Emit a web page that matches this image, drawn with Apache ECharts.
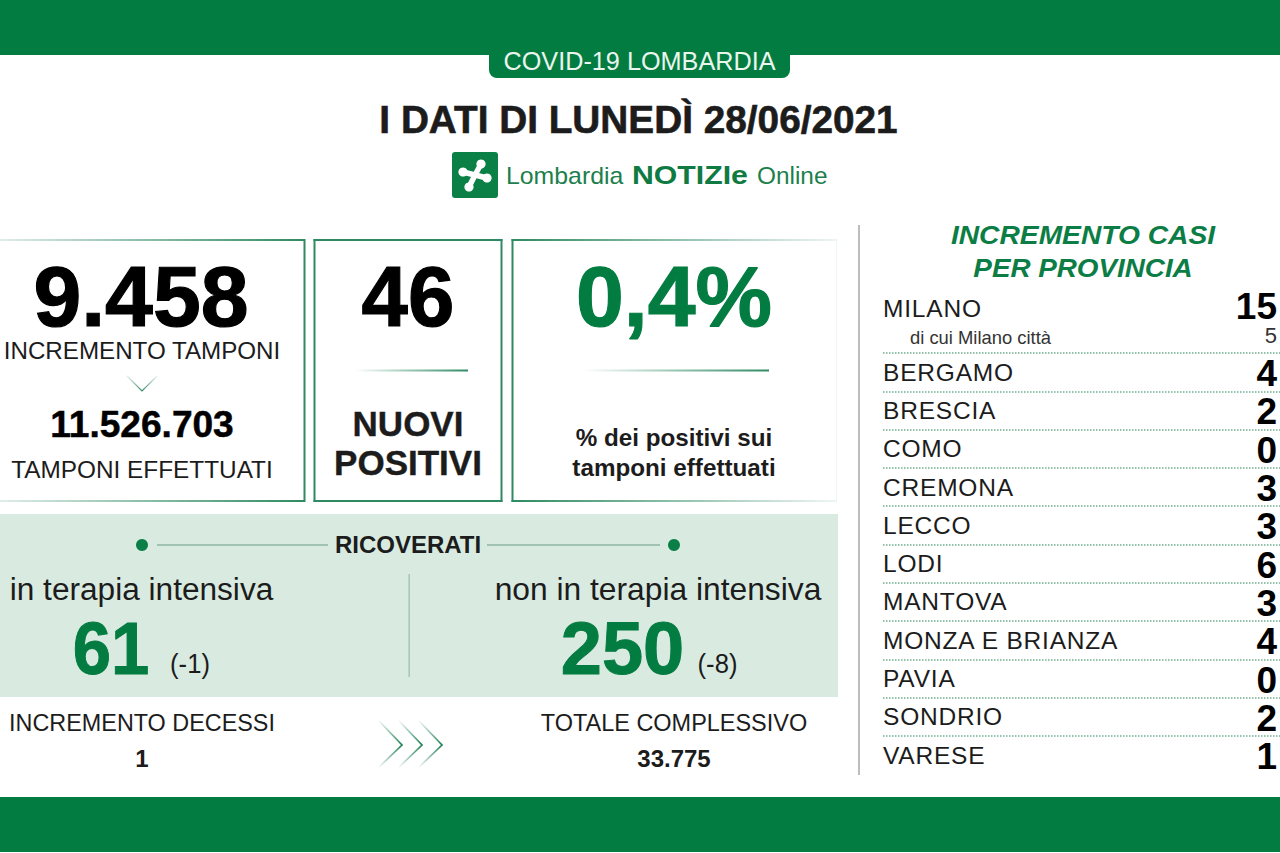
<!DOCTYPE html>
<html>
<head>
<meta charset="utf-8">
<title>COVID-19 Lombardia</title>
<script src="https://cdn.jsdelivr.net/npm/echarts@6/dist/echarts.min.js"></script>
<style>
  html, body { margin: 0; padding: 0; background: #fff; }
  #chart { width: 1280px; height: 853px; }
  /* province names are spaced out a little in the original */
  #chart text[style*="24.5px"] { letter-spacing: 0.8px; }
</style>
</head>
<body>
<div id="chart"></div>
<script>
const headerLabel = 'COVID-19 LOMBARDIA';
const titleText = 'I DATI DI LUNEDÌ 28/06/2021';
const testIncrement = '9.458';
const testTotal = '11.526.703';
const newPositives = '46';
const positiveRate = '0,4%';
const icuLabel = 'in terapia intensiva';
const icuValue = '61';
const icuDelta = '(-1)';
const wardLabel = 'non in terapia intensiva';
const wardValue = '250';
const wardDelta = '(-8)';
const deathsIncrement = '1';
const deathsTotal = '33.775';

const milanoRows = ['MILANO', 'di cui Milano città'];
const milanoCases = [15, 5];
const provinces = ['BERGAMO', 'BRESCIA', 'COMO', 'CREMONA', 'LECCO', 'LODI', 'MANTOVA',
  'MONZA E BRIANZA', 'PAVIA', 'SONDRIO', 'VARESE'];
const provinceCases = [4, 2, 0, 3, 3, 6, 3, 4, 0, 2, 1];

const GREEN = '#037c41';
const LINE = '#2f8a63';
const INK = '#1c1c1c';
const FONT = '"Liberation Sans", Arial, sans-serif';

const chart = echarts.init(document.getElementById('chart'), null, { renderer: 'svg' });

function text(str, x, y, size, color, o) {
  o = o || {};
  const style = {
    text: str, fill: color, fontFamily: FONT, fontSize: size,
    fontWeight: o.bold ? 'bold' : 'normal', fontStyle: o.italic ? 'italic' : 'normal',
    textAlign: o.align || 'center', textVerticalAlign: 'middle'
  };
  // the original bold is a bit heavier than Liberation
  if (o.heavy) {
    style.stroke = color;
    style.lineWidth = o.heavy;
  }
  return { type: 'text', x: x, y: y, scaleX: o.sx || 1, silent: true, z: 10, style: style };
}
function rect(x, y, w, h, fill, r) {
  return { type: 'rect', silent: true, shape: { x: x, y: y, width: w, height: h, r: r || 0 }, style: { fill: fill } };
}
function fade(from, to) {
  return new echarts.graphic.LinearGradient(0, 0, 1, 0, [
    { offset: 0, color: from }, { offset: 1, color: to }
  ]);
}
function poly(points, color, width) {
  return { type: 'polyline', silent: true, shape: { points: points }, style: { stroke: color, lineWidth: width, fill: null, lineCap: 'round' } };
}

const cloverPoints = [[481, 164], [463, 172], [469, 187], [487, 178]];
const clover = [];
cloverPoints.forEach(p => {
  clover.push({
    type: 'line', silent: true, z: 5,
    shape: { x1: 475, y1: 175, x2: p[0], y2: p[1] },
    style: { stroke: '#fff', lineWidth: 5.5, lineCap: 'round' }
  });
  clover.push({ type: 'circle', silent: true, z: 5, shape: { cx: p[0], cy: p[1], r: 4.6 }, style: { fill: '#fff' } });
});

const chevrons = [402, 422, 442].map(tip => poly([[tip - 24, 720], [tip, 745], [tip - 24, 768]],
  fade('rgba(47,138,99,0)', '#1f7f55'), 1.7));

const graphics = [
  // bands
  rect(0, 0, 1280, 55, GREEN),
  rect(0, 797, 1280, 55, GREEN),
  rect(489, 50, 301, 28, GREEN, [0, 0, 8, 8]),
  text(headerLabel, 639.5, 61, 25, '#eaf5ee', { sx: 1.01 }),
  text(titleText, 638.5, 120, 38, INK, { bold: true, sx: 1.02, heavy: 0.6 }),

  // logo
  rect(452, 152, 46, 46, '#0a8046', 3),
  ...clover,
  text('Lombardia', 506, 176, 23, '#1d7f4c', { align: 'left', sx: 1.08 }),
  text('NOTIZIe', 632, 175, 25, '#0f7a42', { align: 'left', bold: true, sx: 1.21 }),
  text('Online', 757, 176, 23, '#1d7f4c', { align: 'left', sx: 1.06 }),

  // box 1
  rect(0, 239, 305, 2, fade('rgba(47,138,99,0.15)', LINE)),
  rect(0, 500, 305, 2, fade('rgba(47,138,99,0.15)', LINE)),
  rect(303.5, 239, 2, 263, LINE),
  text(testIncrement, 141, 296, 86, '#000', { bold: true, heavy: 1.2 }),
  text('INCREMENTO TAMPONI', 142, 351, 24, INK, { sx: 1.007 }),
  poly([[127, 376], [142, 391], [157, 376]], new echarts.graphic.LinearGradient(0, 0, 0, 1, [
    { offset: 0, color: 'rgba(47,138,99,0.1)' }, { offset: 1, color: LINE }
  ]), 1.2),
  text(testTotal, 142, 425, 36, '#000', { bold: true, sx: 1.03, heavy: 0.5 }),
  text('TAMPONI EFFETTUATI', 142, 470, 24, INK, { sx: 1.015 }),

  // box 2
  rect(313.5, 239, 189, 2, LINE),
  rect(313.5, 500, 189, 2, LINE),
  rect(313.5, 239, 2, 263, LINE),
  rect(500.5, 239, 2, 263, LINE),
  text(newPositives, 408, 296, 86, '#000', { bold: true, sx: 0.97, heavy: 1.2 }),
  rect(355, 369.5, 113, 2, fade('rgba(47,138,99,0)', LINE)),
  text('NUOVI', 408, 423, 35, INK, { bold: true, heavy: 0.4 }),
  text('POSITIVI', 408, 462, 35, INK, { bold: true, heavy: 0.4 }),

  // box 3
  rect(511.5, 239, 325, 2, fade(LINE, 'rgba(47,138,99,0.08)')),
  rect(511.5, 500, 325, 2, fade(LINE, 'rgba(47,138,99,0.08)')),
  rect(511.5, 239, 2, 263, LINE),
  rect(836, 239, 1, 263, 'rgba(47,138,99,0.08)'),
  text(positiveRate, 674, 296, 86, GREEN, { bold: true, heavy: 1.2 }),
  rect(583, 369.5, 186, 2, fade('rgba(47,138,99,0)', LINE)),
  text('% dei positivi sui', 674, 438, 24, INK, { bold: true, sx: 1.01 }),
  text('tamponi effettuati', 674, 468, 24, INK, { bold: true, sx: 1.01 }),

  // ricoverati panel
  rect(0, 514, 838, 183, '#d9ebe1'),
  { type: 'circle', silent: true, shape: { cx: 142, cy: 545, r: 6 }, style: { fill: '#0a8048' } },
  { type: 'circle', silent: true, shape: { cx: 674, cy: 545, r: 6 }, style: { fill: '#0a8048' } },
  rect(157, 544.3, 171, 1.5, '#8fb5a0'),
  rect(487, 544.3, 173, 1.5, '#8fb5a0'),
  text('RICOVERATI', 408, 544, 24, INK, { bold: true }),
  rect(408.5, 574, 1.3, 103, '#9dbfae'),
  text(icuLabel, 141.5, 590, 31, INK, { sx: 1.02 }),
  text(icuValue, 111, 648, 74, GREEN, { bold: true, sx: 0.93, heavy: 1 }),
  text(icuDelta, 190, 664, 27, INK, { sx: 0.95 }),
  text(wardLabel, 658, 590, 31, INK, { sx: 1.025 }),
  text(wardValue, 622.5, 648, 74, GREEN, { bold: true, heavy: 1 }),
  text(wardDelta, 717.5, 664, 27, INK, { sx: 0.95 }),

  // bottom row
  text('INCREMENTO DECESSI', 142, 723, 24, INK, { sx: 0.974 }),
  text(deathsIncrement, 142, 758, 24, INK, { bold: true }),
  ...chevrons,
  text('TOTALE COMPLESSIVO', 674, 723, 24, INK, { sx: 0.978 }),
  text(deathsTotal, 674, 758, 24, INK, { bold: true }),

  // provincia column
  rect(858, 225, 2, 550, '#bdbdbd'),
  text('INCREMENTO CASI', 1083, 235, 26, '#0b7d45', { bold: true, italic: true, sx: 1.085 }),
  text('PER PROVINCIA', 1083, 268, 26, '#0b7d45', { bold: true, italic: true, sx: 1.07 })
];

const nameLabel = {
  show: true, inside: true, margin: 0, interval: 0, color: INK, fontFamily: FONT, fontSize: 24.5, align: 'left',
  padding: [3, 0, 0, 0]
};

function caseSeries(names, values, gridIndex, style, dy) {
  return {
    type: 'scatter', xAxisIndex: gridIndex, yAxisIndex: gridIndex, symbolSize: 0, silent: true,
    itemStyle: { opacity: 1 },
    data: names.map((n, i) => ({
      value: [1, n, values[i]],
      label: style(i)
    })),
    encode: { x: 0, y: 1 },
    label: { show: true, position: 'left', distance: 3, offset: [0, dy], formatter: p => p.value[2] }
  };
}
const bigNumber = { fontFamily: FONT, fontSize: 37, fontWeight: 'bold', color: '#000' };

// the last three names sit a little lower in their rows
const provinceRows = provinces.map((p, i) => i >= 8 ? { value: p, textStyle: { padding: [9, 0, 0, 0] } } : p);

chart.setOption({
  animation: false,
  backgroundColor: '#fff',
  grid: [
    { left: 883, right: 0, top: 294, height: 58 },
    { left: 883, right: 0, top: 353, height: 421.3 }
  ],
  xAxis: [0, 1].map(g => ({ type: 'value', gridIndex: g, min: 0, max: 1, show: false })),
  yAxis: [
    {
      type: 'category', gridIndex: 0, inverse: true,
      data: [
        { value: milanoRows[0] },
        { value: milanoRows[1], textStyle: { fontSize: 18.4, color: '#333', padding: [3, 0, 0, 27] } }
      ],
      axisLine: { show: false }, axisTick: { show: false }, splitLine: { show: false },
      axisLabel: nameLabel
    },
    {
      type: 'category', gridIndex: 1, inverse: true, data: provinceRows,
      axisLine: { show: false }, axisTick: { show: false },
      splitLine: {
        show: true, showMaxLine: false, interval: 0,
        lineStyle: { color: '#6fae8f', width: 1.5, type: [1.5, 1.5] }
      },
      axisLabel: nameLabel
    }
  ],
  series: [
    caseSeries(milanoRows, milanoCases, 0, i => i === 0 ? bigNumber
      : { fontFamily: FONT, fontSize: 22, color: '#333' }, -2.5),
    caseSeries(provinces, provinceCases, 1, () => bigNumber, 1.5)
  ],
  graphic: { elements: graphics }
});
</script>
</body>
</html>
